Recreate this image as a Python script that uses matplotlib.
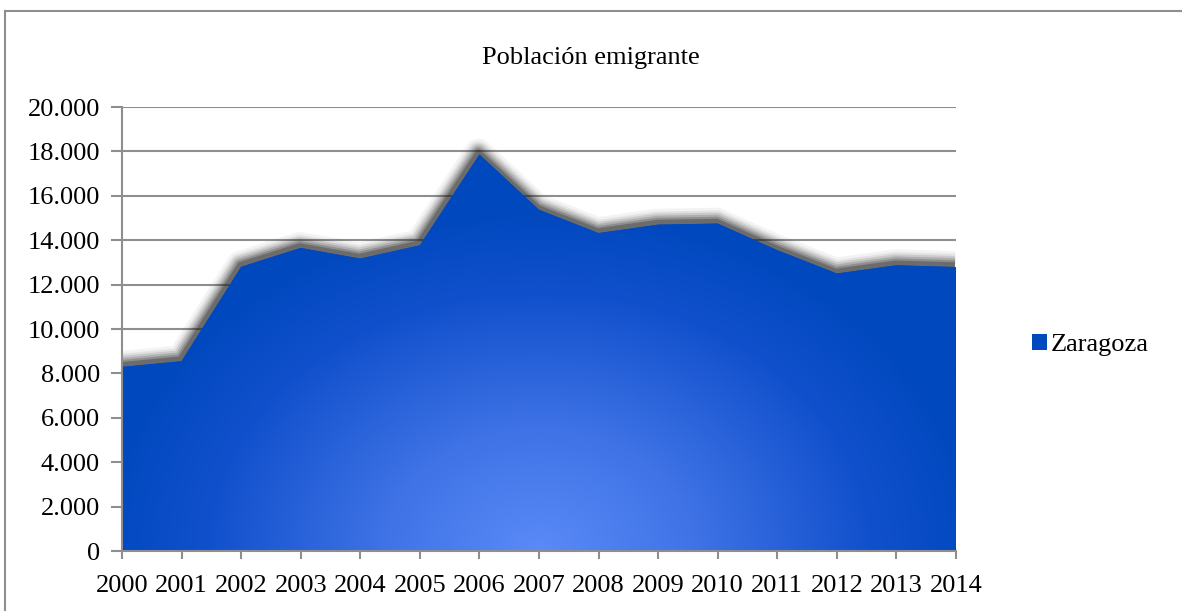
"""
Poblacion emigrante - Zaragoza, area chart with radial gradient fill
"""
import numpy as np
import matplotlib
matplotlib.use("Agg")
import matplotlib.pyplot as plt
import matplotlib.transforms as mtransforms
from matplotlib.colors import LinearSegmentedColormap
from matplotlib.patches import Patch, Polygon
from matplotlib.ticker import FuncFormatter

years = [2000, 2001, 2002, 2003, 2004, 2005, 2006, 2007,
         2008, 2009, 2010, 2011, 2012, 2013, 2014]
zaragoza = [8290, 8550, 12800, 13650, 13170, 13770, 17860, 15370,
            14320, 14700, 14750, 13550, 12500, 12870, 12790]
series_name = "Zaragoza"
title = "Población emigrante"

plt.rcParams['font.family'] = ['Liberation Serif', 'DejaVu Serif']

fig = plt.figure(figsize=(11.82, 6.11), dpi=100)
ax = fig.add_axes([122 / 1182, 1 - 551 / 611, 834 / 1182, 444 / 611])

x = np.arange(len(years))
y = np.array(zaragoza)

# grid lines behind everything
ax.set_ylim(0, 20000)
ax.set_xlim(0, len(years) - 1)
ax.set_yticks(np.arange(0, 20001, 2000))
ax.yaxis.grid(True, color='#8e8e8e', linewidth=1.5, zorder=0)
ax.set_axisbelow(True)

# soft shadow along the top edge
up = mtransforms.offset_copy(ax.transData, fig=fig, x=-1, y=2, units='dots')
for lw, a in [(20, 0.05), (16, 0.08), (13, 0.12), (10, 0.16), (7, 0.22), (4, 0.3)]:
    ax.plot(x, y, color='#1e1e1e', linewidth=lw, alpha=a,
            solid_joinstyle='round', solid_capstyle='butt', transform=up, zorder=1)

# area polygon used as clip for the gradient image
verts = np.column_stack([np.r_[x, x[-1], x[0]], np.r_[y, 0, 0]])
poly = Polygon(verts, closed=True, facecolor='#0048be', edgecolor='none', zorder=2)
ax.add_patch(poly)

# radial gradient, lighter at the bottom centre
cmap = LinearSegmentedColormap.from_list(
    'grad', [(0.0, '#5a8af7'), (0.35, '#3f73e6'), (0.75, '#1150cc'), (1.0, '#0048be')])
gx = np.linspace(0, len(years) - 1, 400)
gy = np.linspace(0, 20000, 300)
GX, GY = np.meshgrid(gx, gy)
r = np.sqrt(((GX - 7) / 7.4) ** 2 + (GY / 15500) ** 2)
img = ax.imshow(np.clip(r, 0, 1), cmap=cmap, vmin=0, vmax=1, origin='lower',
                extent=[0, len(years) - 1, 0, 20000], aspect='auto',
                interpolation='bilinear', zorder=3)
img.set_clip_path(poly)

# axes styling
for side in ['top', 'right']:
    ax.spines[side].set_visible(False)
for side in ['left', 'bottom']:
    ax.spines[side].set_color('#8e8e8e')
    ax.spines[side].set_linewidth(1.5)
    ax.spines[side].set_zorder(4)

ax.set_xticks(x)
ax.set_xticklabels([str(v) for v in years])
ax.yaxis.set_major_formatter(FuncFormatter(lambda v, p: f"{int(v):,}".replace(",", ".")))
ax.tick_params(axis='y', length=8, width=1.5, color='#8e8e8e', pad=8, labelsize=19)
ax.tick_params(axis='x', length=6, width=1.5, color='#8e8e8e', pad=11, labelsize=19)

fig.text(591 / 1182, 1 - 58 / 611, title, ha='center', va='center', fontsize=19)

handle = Patch(facecolor='#0048be', edgecolor='none')
fig.legend([handle], [series_name], loc='center left',
           bbox_to_anchor=(1032 / 1182, 1 - 345 / 611), frameon=False,
           fontsize=19, handlelength=0.55, handleheight=0.55,
           handletextpad=0.15, borderpad=0, borderaxespad=0)

# chart area border (top and left edges visible)
fig.add_artist(plt.Line2D([5 / 1182, 5 / 1182], [0, 1 - 11 / 611],
                          color='#8e8e8e', linewidth=1.5))
fig.add_artist(plt.Line2D([5 / 1182, 1], [1 - 11 / 611, 1 - 11 / 611],
                          color='#8e8e8e', linewidth=1.5))

fig.savefig("out.png", dpi=100)
